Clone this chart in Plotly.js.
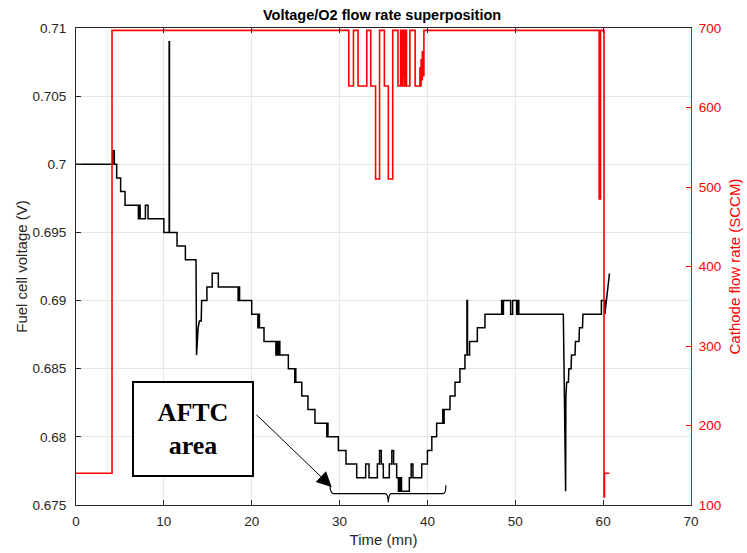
<!DOCTYPE html>
<html>
<head>
<meta charset="utf-8">
<script src="https://cdn.plot.ly/plotly-3.0.1.min.js"></script>
<style>html,body{margin:0;padding:0;background:#fff;}#chart{width:747px;height:553px;}</style>
</head>
<body>
<div id="chart"></div>
<script>
// Fuel cell voltage (V) vs time (mn)
var timeV = [
  0, 4.17, 4.17, 4.36, 4.36, 4.63, 4.63, 5.08, 5.08, 5.58, 5.58,
  7.1, 7.1, 7.2, 7.2, 7.3, 7.3, 7.9, 7.9, 8.2, 8.2,
  10.0, 10.0, 10.6, 10.6, 10.64, 10.64,
  11.5, 11.5, 12.45, 12.45, 13.66, 13.72, 13.9, 14.05, 14.25, 14.3, 14.9, 14.9, 15.5, 15.5, 16.2, 16.2,
  18.45, 18.45, 18.55, 18.55, 18.62, 18.62, 20.0, 20.0, 20.7, 20.7, 20.8, 20.8, 20.88, 20.88, 21.4, 21.4,
  22.75, 22.75, 22.85, 22.85, 22.95, 22.95, 23.05, 23.05, 23.2, 23.2,
  24.17, 24.17, 24.9, 24.9, 24.95, 24.95, 25.02, 25.02, 25.7, 25.7, 26.4, 26.4, 27.2, 27.2,
  28.55, 28.55, 28.6, 28.6, 28.68, 28.68, 29.86, 29.86, 30.73, 30.73, 31.95, 31.95,
  32.97, 32.97, 33.35, 33.35, 34.3, 34.3, 34.55, 34.55, 34.75, 34.75, 34.98, 34.98,
  35.66, 35.66, 35.95, 35.95, 36.15, 36.15, 36.5, 36.5, 36.7, 36.7, 36.8, 36.8, 36.88, 36.88,
  36.95, 36.95, 37.05, 37.05, 37.94, 37.94, 38.15, 38.15, 38.35, 38.35, 39.35, 39.35,
  40.0, 40.0, 40.5, 40.5, 41.05, 41.05, 41.75, 41.75, 41.82, 41.82, 41.9, 41.9,
  42.57, 42.57, 43.14, 43.14, 43.7, 43.7, 44.27, 44.27, 44.5, 44.5, 44.56, 44.56, 44.8, 44.8,
  45.68, 45.68, 46.55, 46.55, 48.45, 48.45, 48.55, 48.55, 48.65, 48.65, 49.47, 49.47, 49.7, 49.7,
  50.16, 50.16, 50.28, 50.28, 50.4, 50.4,
  55.47, 55.73, 55.76, 55.85, 56.05, 56.1, 56.35, 56.4, 56.8, 56.85, 57.25, 57.3, 57.65, 57.7,
  59.8, 59.8, 60.2, 60.2, 60.72
];
var voltage = [
  0.700, 0.700, 0.701, 0.701, 0.700, 0.700, 0.699, 0.699, 0.698, 0.698, 0.697,
  0.697, 0.696, 0.696, 0.697, 0.697, 0.696, 0.696, 0.697, 0.697, 0.696,
  0.696, 0.695, 0.695, 0.709, 0.709, 0.695,
  0.695, 0.694, 0.694, 0.693, 0.693, 0.686, 0.688, 0.6885, 0.6885, 0.690, 0.690, 0.691, 0.691, 0.692, 0.692, 0.691,
  0.691, 0.690, 0.690, 0.691, 0.691, 0.690, 0.690, 0.689, 0.689, 0.688, 0.688, 0.689, 0.689, 0.688, 0.688, 0.687,
  0.687, 0.686, 0.686, 0.687, 0.687, 0.686, 0.686, 0.687, 0.687, 0.686,
  0.686, 0.685, 0.685, 0.684, 0.684, 0.685, 0.685, 0.684, 0.684, 0.683, 0.683, 0.682, 0.682, 0.681,
  0.681, 0.680, 0.680, 0.681, 0.681, 0.680, 0.680, 0.679, 0.679, 0.678, 0.678, 0.677,
  0.677, 0.678, 0.678, 0.677, 0.677, 0.678, 0.678, 0.679, 0.679, 0.678, 0.678, 0.677,
  0.677, 0.678, 0.678, 0.679, 0.679, 0.678, 0.678, 0.677, 0.677, 0.676, 0.676, 0.677, 0.677, 0.676,
  0.676, 0.677, 0.677, 0.676, 0.676, 0.677, 0.677, 0.678, 0.678, 0.677, 0.677, 0.678,
  0.678, 0.679, 0.679, 0.680, 0.680, 0.681, 0.681, 0.682, 0.682, 0.681, 0.681, 0.682,
  0.682, 0.683, 0.683, 0.684, 0.684, 0.685, 0.685, 0.686, 0.686, 0.690, 0.690, 0.686, 0.686, 0.687,
  0.687, 0.688, 0.688, 0.689, 0.689, 0.690, 0.690, 0.689, 0.689, 0.690, 0.690, 0.689, 0.689, 0.690,
  0.690, 0.689, 0.689, 0.690, 0.690, 0.689,
  0.689, 0.676, 0.683, 0.684, 0.684, 0.685, 0.685, 0.686, 0.686, 0.687, 0.687, 0.688, 0.688, 0.689,
  0.689, 0.690, 0.690, 0.689, 0.692
];

// Cathode O2 flow rate (SCCM) vs time (mn)
var timeQ = [
  0, 4.1, 4.1, 31.05, 31.05, 31.58, 31.58, 32.1, 32.1, 33.1, 33.1, 33.55, 33.55, 34.1, 34.1, 34.55, 34.55,
  35.1, 35.1, 35.55, 35.55, 36.05, 36.05, 36.65, 36.65, 36.95, 36.95, 37.0, 37.0, 37.05, 37.05,
  37.12, 37.12, 37.18, 37.18, 37.25, 37.25, 37.3, 37.3, 37.38, 37.38, 37.45, 37.45, 37.52, 37.52,
  37.56, 37.56, 37.62, 37.62, 38.0, 38.0, 38.6, 38.6, 39.15, 39.15, 39.2, 39.2, 39.28, 39.28,
  39.35, 39.35, 39.42, 39.42, 39.5, 39.5, 39.6, 39.6,
  59.55, 59.55, 59.7, 59.7, 60.1, 60.1, 60.15, 60.15, 60.7
];
var flow = [
  140, 140, 697, 697, 627, 627, 697, 697, 627, 627, 697, 697, 627, 627, 510, 510, 697,
  697, 627, 627, 510, 510, 697, 697, 627, 627, 697, 697, 627, 627, 697,
  697, 627, 627, 697, 697, 640, 640, 697, 697, 627, 627, 697, 697, 660,
  660, 697, 697, 627, 627, 697, 697, 627, 627, 650, 650, 627, 627, 660,
  660, 635, 635, 670, 670, 640, 640, 697,
  697, 485, 485, 697, 697, 110, 110, 140, 140
];

var axisFont = {family: 'Liberation Sans, Arial, sans-serif', size: 13.5, color: '#262626'};

var traces = [
  {x: timeV, y: voltage, type: 'scatter', mode: 'lines', yaxis: 'y',
   line: {color: '#000000', width: 1.5}, hoverinfo: 'skip', showlegend: false},
  {x: timeQ, y: flow, type: 'scatter', mode: 'lines', yaxis: 'y2',
   line: {color: '#ff0000', width: 1.6}, hoverinfo: 'skip', showlegend: false}
];

var layout = {
  width: 747, height: 553,
  margin: {l: 76, r: 56, t: 28, b: 48, pad: 0},
  paper_bgcolor: '#ffffff', plot_bgcolor: '#ffffff',
  font: axisFont,
  showlegend: false,
  title: {text: '<b>Voltage/O2 flow rate superposition</b>',
          font: {family: 'Liberation Sans, Arial, sans-serif', size: 14.5, color: '#000000'},
          x: 0.5115, xanchor: 'center', y: 1 - 15/553, yanchor: 'middle', yref: 'container'},
  xaxis: {
    range: [0, 70], dtick: 10, tick0: 0,
    showgrid: true, gridcolor: '#e6e6e6', gridwidth: 1, zeroline: false,
    showline: true, linecolor: '#262626', linewidth: 1, mirror: 'ticks',
    ticks: 'inside', ticklen: 5, tickcolor: '#262626', tickwidth: 1,
    tickfont: axisFont, ticklabelstandoff: 4,
    title: {text: 'Time (mn)', font: {family: 'Liberation Sans, Arial, sans-serif', size: 15, color: '#262626'}, standoff: 6}
  },
  yaxis: {
    range: [0.675, 0.71], dtick: 0.005, tick0: 0.675,
    showgrid: true, gridcolor: '#e6e6e6', gridwidth: 1, zeroline: false,
    showline: true, linecolor: '#262626', linewidth: 1,
    ticks: 'inside', ticklen: 5, tickcolor: '#262626', tickwidth: 1,
    tickfont: axisFont, ticklabelstandoff: 6,
    title: {text: 'Fuel cell voltage (V)', font: {family: 'Liberation Sans, Arial, sans-serif', size: 15, color: '#262626'}, standoff: 1}
  },
  yaxis2: {
    range: [100, 700], dtick: 100, tick0: 100,
    overlaying: 'y', side: 'right',
    showgrid: false, zeroline: false,
    showline: true, linecolor: '#ff0000', linewidth: 1,
    ticks: 'inside', ticklen: 5, tickcolor: '#ff0000', tickwidth: 1,
    tickfont: {family: 'Liberation Sans, Arial, sans-serif', size: 13.5, color: '#ff0000'}, ticklabelstandoff: 4,
    title: {text: 'Cathode flow rate (SCCM)', font: {family: 'Liberation Sans, Arial, sans-serif', size: 15, color: '#ff0000'}, standoff: 9}
  },
  annotations: [
    {xref: 'x', yref: 'y', x: 13.32, y: 0.68056, xanchor: 'center', yanchor: 'middle',
     text: '<b>AFTC</b><br><b>area</b>', showarrow: false,
     font: {family: 'Liberation Serif, Times New Roman, serif', size: 26, color: '#000000'},
     bordercolor: '#000000', borderwidth: 2, borderpad: 0, bgcolor: '#ffffff',
     width: 118, height: 92, align: 'center'},
    {xref: 'x', yref: 'y', x: 29.1, y: 0.67632, axref: 'x', ayref: 'y', ax: 20.37, ay: 0.68173,
     text: '', showarrow: true, arrowhead: 2, arrowsize: 3, arrowwidth: 1, arrowcolor: '#000000', standoff: 0}
  ],
  shapes: [
    {type: 'path', xref: 'x', yref: 'y', layer: 'above',
     path: 'M 28.9,0.67645 Q 28.95,0.67584 29.3,0.67584 L 35.2,0.67584 Q 35.5,0.67584 35.55,0.6752 Q 35.6,0.67584 35.9,0.67584 L 41.8,0.67584 Q 42.1,0.67584 42.1,0.67645',
     line: {color: '#000000', width: 1.2}}
  ]
};

Plotly.newPlot('chart', traces, layout, {staticPlot: true, displayModeBar: false});
</script>
</body>
</html>
